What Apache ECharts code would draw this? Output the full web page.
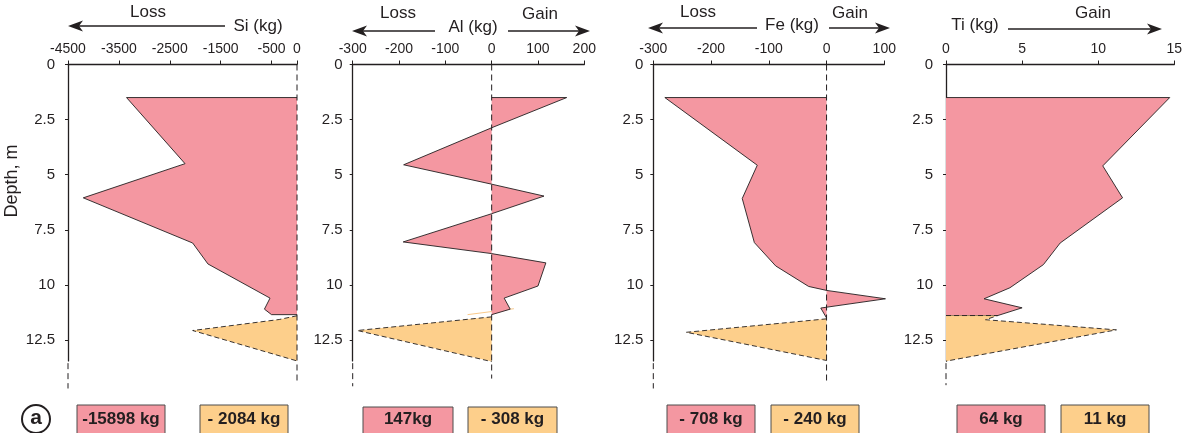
<!DOCTYPE html>
<html><head><meta charset="utf-8">
<script src="https://cdn.jsdelivr.net/npm/echarts@6/dist/echarts.min.js"></script>
<style>html,body{margin:0;padding:0;background:#fff}#c{width:1185px;height:433px}</style>
</head><body><div id="c"></div>
<script>
// ---------- DATA ----------
const depthTicks = [0, 2.5, 5, 7.5, 10, 12.5];
const siTicks = [-4500, -3500, -2500, -1500, -500, 0];
const alTicks = [-300, -200, -100, 0, 100, 200];
const feTicks = [-300, -200, -100, 0, 100];
const tiTicks = [0, 5, 10, 15];

// Si (kg)
const siUpperValue = [0, -3350, -2200, -4200, -2050, -1750, -530, -640, -500, 0];
const siUpperDepth = [1.5, 1.5, 4.5, 6.05, 8.1, 9.05, 10.6, 11.1, 11.35, 11.35];
const siLowerValue = [0, -350, -2050, 0];
const siLowerDepth = [11.4, 11.57, 12.07, 13.45];

// Al (kg)
const alUpperValue = [0, 162, 0, -190, 0, 113, 0, -191, 0, 117, 100, 27, 40, 0];
const alUpperDepth = [1.5, 1.5, 2.87, 4.55, 5.43, 5.97, 6.77, 8.05, 8.58, 9.0, 10.05, 10.6, 11.1, 11.35];
const alLowerValue = [0, -290, 0];
const alLowerDepth = [11.45, 12.07, 13.48];
const alStrayValue = [-52, 48];
const alStrayDepth = [11.35, 11.08];

// Fe (kg)
const feUpperValue = [0, -280, -120, -146, -125, -88, -31, 0, 102, -10, 0];
const feUpperDepth = [1.5, 1.5, 4.57, 6.08, 8.08, 9.14, 10.07, 10.25, 10.63, 11.05, 11.5];
const feLowerValue = [0, -243, 0];
const feLowerDepth = [11.54, 12.15, 13.43];

// Ti (kg)
const tiUpperValue = [0, 14.7, 10.3, 11.6, 7.5, 6.4, 4.2, 2.5, 5.0, 3.4, 0];
const tiUpperDepth = [1.5, 1.5, 4.6, 6.05, 8.1, 9.08, 10.13, 10.63, 11.04, 11.39, 11.39];
const tiLowerValue = [0, 3.4, 2.6, 11.2, 0];
const tiLowerDepth = [11.39, 11.39, 11.58, 12.04, 13.46];

// Totals shown in boxes
const siTotals = ['-15898 kg', '- 2084 kg'];
const alTotals = ['147kg', '- 308 kg'];
const feTotals = ['- 708 kg', '- 240 kg'];
const tiTotals = ['64 kg', '11 kg'];

// ---------- STYLE ----------
const FONT = "'Liberation Sans', Arial, Helvetica, sans-serif";
const INK = '#231f20';
const PINK = '#f497a1';
const ORANGE = '#fdcf8b';
const DEPTH_MAX = 13.45;

const panels = [
  { left: 68, width: 229, min: -4500, max: 0, ticks: siTicks, ylabMargin: 13,
    up: [siUpperValue, siUpperDepth], low: [siLowerValue, siLowerDepth], zero: true, extEnd: 14.7 },
  { left: 352.7, width: 231.6, min: -300, max: 200, ticks: alTicks, ylabMargin: 10,
    up: [alUpperValue, alUpperDepth], low: [alLowerValue, alLowerDepth], zero: true, extEnd: 14.6 },
  { left: 653.3, width: 231, min: -300, max: 100, ticks: feTicks, ylabMargin: 10,
    up: [feUpperValue, feUpperDepth], low: [feLowerValue, feLowerDepth], zero: true, extEnd: 14.7 },
  { left: 946, width: 228.3, min: 0, max: 15, ticks: tiTicks, ylabMargin: 13,
    up: [tiUpperValue, tiUpperDepth], low: [tiLowerValue, tiLowerDepth], zero: false, extEnd: 14.55 }
];

const zip = (xs, ys) => xs.map((v, i) => [v, ys[i]]);

function polyRender(points, fill, dashed) {
  return function (params, api) {
    if (params.dataIndex !== 0) return null;
    const pts = points.map(p => api.coord(p));
    return {
      type: 'group',
      children: [
        { type: 'polygon', shape: { points: pts }, style: { fill: fill, stroke: 'none' } },
        { type: 'polyline', shape: { points: pts },
          style: { fill: 'none', stroke: INK, lineWidth: 0.9, lineDash: dashed ? [5, 3] : null } }
      ]
    };
  };
}

const grids = [], xAxes = [], yAxes = [], series = [];
panels.forEach((p, i) => {
  grids.push({ left: p.left, width: p.width, top: 64.5, height: DEPTH_MAX * 22.04, outerBoundsMode: 'none', containLabel: false });
  xAxes.push({
    gridIndex: i, type: 'value', position: 'top', min: p.min, max: p.max,
    splitLine: { show: false },
    axisLine: { show: true, onZero: false, lineStyle: { color: INK, width: 1.3 } },
    axisTick: { show: true, length: 4, inside: false, customValues: p.ticks, lineStyle: { color: INK, width: 1 } },
    axisLabel: { customValues: p.ticks, margin: 8, color: INK, fontSize: 14, fontFamily: FONT,
      formatter: v => String(v) }
  });
  yAxes.push({
    gridIndex: i, type: 'value', inverse: true, min: 0, max: DEPTH_MAX,
    splitLine: { show: false },
    axisLine: { show: true, onZero: false, lineStyle: { color: INK, width: 1.3 } },
    axisTick: { show: true, length: 3, customValues: depthTicks, lineStyle: { color: INK, width: 1 } },
    axisLabel: { customValues: depthTicks, margin: p.ylabMargin, color: INK, fontSize: 15, fontFamily: FONT,
      formatter: v => String(v) }
  });
  const upPts = zip(p.up[0], p.up[1]);
  const lowPts = zip(p.low[0], p.low[1]);
  series.push({ type: 'custom', xAxisIndex: i, yAxisIndex: i, data: upPts, renderItem: polyRender(upPts, PINK, false), silent: true, animation: false, z: 2 });
  series.push({ type: 'custom', xAxisIndex: i, yAxisIndex: i, data: lowPts, renderItem: polyRender(lowPts, ORANGE, true), silent: true, animation: false, z: 3 });
  if (p.zero) {
    series.push({ type: 'line', xAxisIndex: i, yAxisIndex: i, data: [[0, 0], [0, p.extEnd - 0.35]], symbol: 'none', clip: false, silent: true, animation: false, z: 4,
      lineStyle: { color: INK, width: 1, type: [6, 4] } });
  }
  series.push({ type: 'line', xAxisIndex: i, yAxisIndex: i, data: [[p.min, DEPTH_MAX + 0.1], [p.min, p.extEnd]], symbol: 'none', clip: false, silent: true, animation: false, z: 4,
    lineStyle: { color: INK, width: 1, type: [6, 4] } });
});
series.push({ type: 'line', xAxisIndex: 1, yAxisIndex: 1, data: zip(alStrayValue, alStrayDepth), symbol: 'none', clip: false, silent: true, animation: false, z: 1,
  lineStyle: { color: '#f9c98a', width: 1 } });

// ---------- ANNOTATIONS ----------
function arrow(x1, x2, y, tipLeft) {
  const tip = tipLeft ? x1 : x2;
  const d = tipLeft ? 1 : -1;
  return [
    { type: 'line', shape: { x1: tipLeft ? x1 + 8 : x1, y1: y, x2: tipLeft ? x2 : x2 - 8, y2: y }, style: { stroke: INK, lineWidth: 1.4 }, silent: true },
    { type: 'polygon', shape: { points: [[tip, y], [tip + d * 15, y - 5.5], [tip + d * 11, y], [tip + d * 15, y + 5.5]] }, style: { fill: INK }, silent: true }
  ];
}
function label(text, x, y, size, weight) {
  return { type: 'text', x: x, y: y, silent: true,
    style: { text: text, fill: INK, font: (weight || 'normal') + ' ' + size + 'px ' + FONT, textAlign: 'center', textVerticalAlign: 'middle' } };
}
function box(x, y, w, h, fill, text) {
  return [
    { type: 'rect', shape: { x: x, y: y, width: w, height: h }, style: { fill: fill, stroke: '#4d4d4d', lineWidth: 1 }, silent: true },
    label(text, x + w / 2, 419, 17, 'bold')
  ];
}

const graphics = [].concat(
  [label('Loss', 148, 12, 17), label('Si (kg)', 258, 26, 17)], arrow(68, 225, 26, true),
  [label('Loss', 398, 13, 17), label('Al (kg)', 473, 27, 17), label('Gain', 540, 14, 17)],
  arrow(352, 435, 31, true), arrow(508, 590, 31, false),
  [label('Loss', 698, 12, 17), label('Fe (kg)', 792, 25, 17), label('Gain', 850, 13, 17)],
  arrow(648, 757, 28, true), arrow(829, 890, 28, false),
  [label('Ti (kg)', 975, 25, 17), label('Gain', 1093, 13, 17)], arrow(1008, 1162, 29, false),
  [{ type: 'text', x: 12, y: 181, rotation: Math.PI / 2, silent: true,
     style: { text: 'Depth, m', fill: INK, font: '18px ' + FONT, textAlign: 'center', textVerticalAlign: 'middle' } }],
  [{ type: 'circle', shape: { cx: 36, cy: 419, r: 14 }, style: { fill: '#fff', stroke: INK, lineWidth: 2 }, silent: true },
   label('a', 36, 418, 21, 'bold')],
  box(77, 405, 88, 30, PINK, siTotals[0]), box(200, 405, 88, 30, ORANGE, siTotals[1]),
  box(363, 407, 90, 28, PINK, alTotals[0]), box(468, 407, 89, 28, ORANGE, alTotals[1]),
  box(667, 405, 88, 30, PINK, feTotals[0]), box(771, 405, 88, 30, ORANGE, feTotals[1]),
  box(957, 405, 88, 30, PINK, tiTotals[0]), box(1061, 405, 88, 30, ORANGE, tiTotals[1])
);

const chart = echarts.init(document.getElementById('c'), null, { renderer: 'canvas' });
chart.setOption({
  animation: false,
  backgroundColor: '#fff',
  textStyle: { fontFamily: FONT },
  grid: grids, xAxis: xAxes, yAxis: yAxes, series: series,
  graphic: { elements: graphics }
});
</script></body></html>
